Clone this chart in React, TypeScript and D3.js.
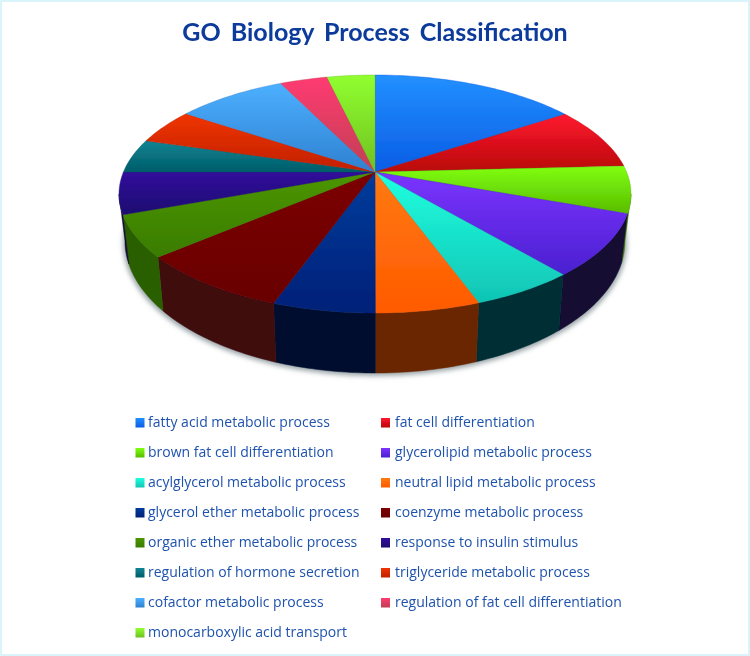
import React from "react";
import * as d3 from "d3";

const categories = [
  "fatty acid metabolic process",
  "fat cell differentiation",
  "brown fat cell differentiation",
  "glycerolipid metabolic process",
  "acylglycerol metabolic process",
  "neutral lipid metabolic process",
  "glycerol ether metabolic process",
  "coenzyme metabolic process",
  "organic ether metabolic process",
  "response to insulin stimulus",
  "regulation of hormone secretion",
  "triglyceride metabolic process",
  "cofactor metabolic process",
  "regulation of fat cell differentiation",
  "monocarboxylic acid transport",
];
const values = [13.3, 7.9, 6.4, 9.2, 6.5, 6.6, 6.5, 9.6, 6.1, 5.75, 4.4, 4.4, 7.2, 3.0, 3.0];

const topLight = ["#2290ff", "#ff1830", "#80ff10", "#7c34ff", "#20ffe0", "#ff7a14", "#003c9c", "#7c0000", "#4c9600", "#32109c", "#108494", "#f03400", "#4cb0ff", "#ff3a72", "#90ff30"];
const topDark = ["#0a5ce4", "#b80808", "#58bc00", "#4a20d0", "#10c4b4", "#ff5a00", "#002078", "#680000", "#3a7c00", "#1c0a70", "#005c68", "#c02000", "#2f80d0", "#c04052", "#70c020"];
const sideColors = ["#0a5ce4", "#800808", "#3f8000", "#130a33", "#002d36", "#6b2600", "#02102e", "#3f0810", "#2a5f00", "#10082f", "#003038", "#701000", "#1c5080", "#702030", "#406010"];

const width = 750;
const height = 656;
const apex = { x: 375, y: 172 };
const top = { cx: 375, cy: 194, rx: 256, ry: 119 };
const bottom = { cx: 375, cy: 241, rx: 250, ry: 132 };

type Rim = typeof top;
const rimPoint = (r: Rim, a: number): [number, number] => [
  r.cx + r.rx * Math.sin(a),
  r.cy - r.ry * Math.cos(a),
];

// follow the ellipse in small steps so the wedge stays a single path
function rimArc(r: Rim, a0: number, a1: number) {
  const n = Math.max(2, Math.ceil(Math.abs(a1 - a0) / 0.02));
  return d3.range(n + 1).map((i) => rimPoint(r, a0 + ((a1 - a0) * i) / n));
}

const line = d3.line();

export default function App() {
  const arcs = d3.pie<number>().sort(null)(values);
  const rows = d3.scalePoint<number>().domain(d3.range(8)).range([423, 633]);
  const halfPi = Math.PI / 2;

  const sides = arcs
    .map((d, i) => ({
      i,
      a0: Math.max(d.startAngle, halfPi),
      a1: Math.min(d.endAngle, 3 * halfPi),
    }))
    .filter((s) => s.a1 > s.a0);

  return (
    <svg
      width={width}
      height={height}
      viewBox={`0 0 ${width} ${height}`}
      style={{ position: "absolute", left: 0, top: 0, background: "#fff" }}
    >
      <defs>
        {arcs.map((_, i) => (
          <linearGradient key={i} id={`top${i}`} x1="0" y1="0" x2="0" y2="1">
            <stop offset="0" stopColor={topLight[i]} />
            <stop offset="1" stopColor={topDark[i]} />
          </linearGradient>
        ))}
        <filter id="soft" x="-5%" y="-5%" width="110%" height="110%">
          <feGaussianBlur stdDeviation="0.45" />
        </filter>
        <filter id="shade" x="-10%" y="-10%" width="120%" height="120%">
          <feGaussianBlur stdDeviation="2.5" />
        </filter>
      </defs>

      <rect x={1} y={1} width={width - 2} height={height - 2} fill="#fff" stroke="#d9f5fb" strokeWidth={2} />

      <g filter="url(#soft)">
        <text
          x={375}
          y={41}
          textAnchor="middle"
          fontFamily="Lato, sans-serif"
          fontWeight={700}
          fontSize={25}
          wordSpacing={4}
          fill="#0a3a9c"
        >
          GO Biology Process Classification
        </text>

        <ellipse cx={bottom.cx} cy={bottom.cy + 2} rx={bottom.rx + 2} ry={bottom.ry + 1} fill="#9aa4a8" filter="url(#shade)" />

        {sides.map((s) => (
          <path
            key={s.i}
            d={line([...rimArc(top, s.a0, s.a1), ...rimArc(bottom, s.a1, s.a0)]) + "Z"}
            fill={sideColors[s.i]}
            stroke={sideColors[s.i]}
            strokeWidth={0.5}
          />
        ))}

        {arcs.map((d, i) => (
          <path
            key={i}
            d={line([[apex.x, apex.y], ...rimArc(top, d.startAngle, d.endAngle)]) + "Z"}
            fill={`url(#top${i})`}
            stroke={topDark[i]}
            strokeWidth={0.4}
          />
        ))}

        {categories.map((c, i) => {
          const col = i % 2;
          const y = rows(Math.floor(i / 2)) as number;
          return (
            <g key={c} transform={`translate(${col ? 381 : 135.5},${y})`}>
              <rect x={0} y={-5} width={9} height={9.5} fill={`url(#top${i})`} />
              <text
                x={col ? 14 : 12.5}
                y={3.5}
                fontFamily="'Open Sans', sans-serif"
                fontSize={14}
                fill="#1f52ad"
              >
                {c}
              </text>
            </g>
          );
        })}
      </g>
    </svg>
  );
}
